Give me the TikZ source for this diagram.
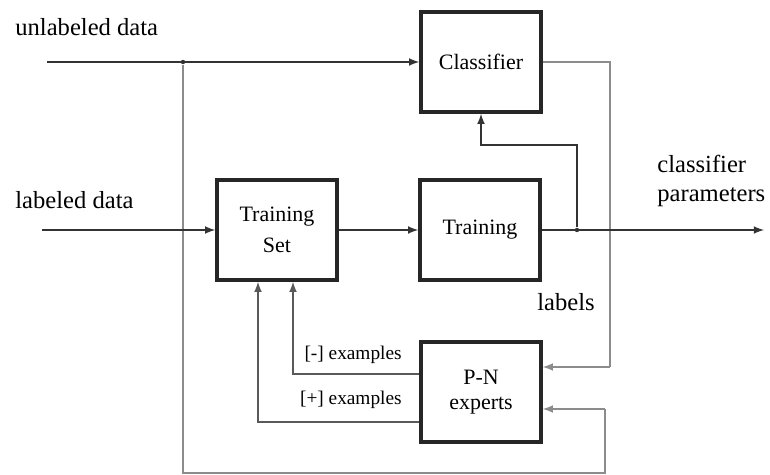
\documentclass[tikz,border=0pt]{standalone}
\usepackage{fontspec}
\setmainfont{Liberation Serif}
\usetikzlibrary{arrows}

\tikzset{
  blk/.style={draw=black!85, line width=2pt, fill=white, minimum width=2.4cm,
    minimum height=2cm, align=center, inner sep=0pt, font=\fontsize{12.5}{15}\selectfont},
  txt/.style={font=\fontsize{14}{16}\selectfont, inner sep=0pt},
  ex/.style={font=\fontsize{11}{13}\selectfont, inner sep=0pt},
  main/.style={draw=black!80, line width=1pt},
  fb/.style={draw=black!45, line width=1pt},
  dot/.style={circle, fill=black!80, inner sep=0pt, minimum size=2.5pt}
}

\begin{document}
\begin{tikzpicture}[>=latex, x=0.02cm, y=-0.02cm]
  \useasboundingbox (0,0) rectangle (770,475);

  % Blocks
  \node[blk] (cls) at (481,62) {Classifier};
  \node[blk] (tset) at (277,230) {\raisebox{-4pt}{\shortstack{Training\\[4pt]Set}}};
  \node[blk] (train) at (480,230) {Training};
  \node[blk] (pn) at (481,392) {\raisebox{-4pt}{\shortstack{P-N\\[4pt]experts}}};

  % Texts
  \node[txt, anchor=west] (unl) at (15,27) {unlabeled data};
  \node[txt, anchor=west] (lab) at (15,200) {labeled data};
  \node[txt, anchor=west, align=left] (par) at (657,181) {classifier\\parameters};
  \node[txt] (lbl) at (566,302) {labels};
  \node[ex, anchor=east] (neg) at (402,355) {[-] examples};
  \node[ex, anchor=east] (pos) at (402,400) {[+] examples};

  % Points
  \coordinate (in1) at (47,62);
  \coordinate (in2) at (42,230);
  \node[dot] (j1) at (183,62) {};
  \node[dot] (j2) at (577,230) {};
  \coordinate (out) at (764,230);
  \coordinate (k) at (481,145);
  \coordinate (c1) at (610,62);
  \coordinate (c2) at (610,367);
  \coordinate (b1) at (183,473);
  \coordinate (b2) at (605,473);
  \coordinate (b3) at (605,409);
  \coordinate (n1) at (293,374);
  \coordinate (p1) at (258,422);

  % Feedback lines
  \draw[fb] (j1) -- (b1) -- (b2) -- (b3);
  \draw[fb,-{latex[scale=1.2]}] (b3) -- (b3 -| pn.east);
  \draw[fb] (cls) -- (c1) -- (c2);
  \draw[fb,-{latex[scale=1.2]}] (c2) -- (c2 -| pn.east);

  % Main lines
  \draw[main,->] (in1) -- (cls);
  \draw[main,->] (in2) -- (tset);
  \draw[main,->] (tset) -- (train);
  \draw[main,->] (train) -- (out);
  \draw[main,->] (j2) |- (k) -- (cls);

  % Examples
  \draw[draw=black!65, line width=1pt,->] (pn.west |- n1) -- (n1) -- (n1 |- tset.south);
  \draw[draw=black!65, line width=1pt,->] (pn.west |- p1) -- (p1) -- (p1 |- tset.south);
\end{tikzpicture}
\end{document}
